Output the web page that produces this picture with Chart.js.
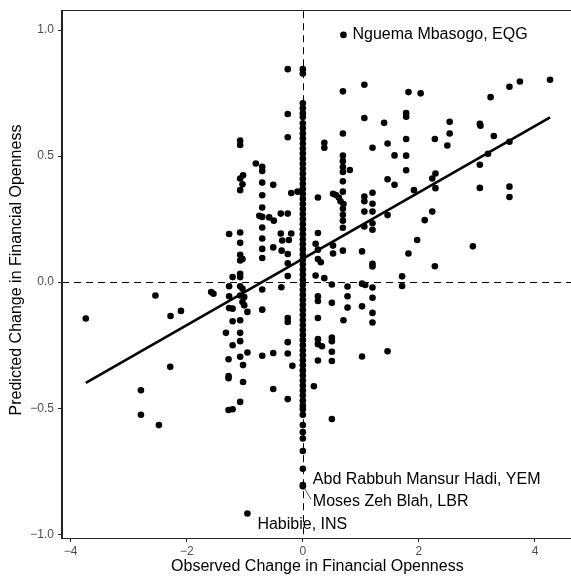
<!DOCTYPE html>
<html>
<head>
<meta charset="utf-8">
<script src="https://cdn.jsdelivr.net/npm/chart.js@4"></script>
<style>
  html, body { margin: 0; padding: 0; background: #fff; overflow: hidden; }
  #wrap { width: 576px; height: 580px; }
</style>
</head>
<body>
<div id="wrap"><canvas id="chart" width="576" height="580"></canvas></div>
<script>
const FONT = '"Liberation Sans", Arial, Helvetica, sans-serif';
const INK = '#000';
const AXIS = '#222';
const TICK_TXT = '#4d4d4d';

const xTicks = [-4, -2, 0, 2, 4];
const xTickLabels = ['\u22124', '\u22122', '0', '2', '4'];
const yTicks = [-1, -0.5, 0, 0.5, 1];
const yTickLabels = ['\u22121.0', '\u22120.5', '0.0', '0.5', '1.0'];

const xTitle = 'Observed Change in Financial Openness';
const yTitle = 'Predicted Change in Financial Openness';

// leaders with a nonzero observed change: [observed, predicted]
const movers = [
    [-3.74, -0.144], [-2.54, -0.053], [-2.28, -0.134], [-2.10, -0.114], [-2.285, -0.336],
    [-2.79, -0.429], [-2.79, -0.526], [-2.48, -0.567],
    [-1.58, -0.039], [-1.54, -0.046],
    [-1.27, 0.191], [-1.21, 0.020], [-1.27, -0.016], [-1.27, -0.056], [-1.27, -0.103], [-1.21, -0.105],
    [-1.21, -0.155], [-1.325, -0.201], [-1.21, -0.250], [-1.28, -0.306], [-1.28, -0.372], [-1.28, -0.381],
    [-1.28, -0.507], [-1.21, -0.504],
    [-1.08, 0.562], [-1.08, 0.544], [-1.03, 0.424], [-1.08, 0.411], [-1.04, 0.388], [-1.08, 0.365],
    [-1.08, 0.197], [-1.08, 0.156], [-1.08, 0.109], [-1.08, 0.086], [-1.04, 0.092], [-1.08, 0.033],
    [-1.08, 0.020], [-1.08, -0.016], [-1.04, -0.026], [-1.08, -0.053], [-1.01, -0.059], [-1.04, -0.079],
    [-1.01, -0.092], [-0.955, -0.118], [-1.08, -0.151], [-1.08, -0.201], [-1.08, -0.234], [-0.955, -0.279],
    [-1.08, -0.296], [-1.03, -0.329], [-1.03, -0.396], [-1.08, -0.475], [-0.955, -0.918],
    [-0.81, 0.471], [-0.70, 0.458], [-0.70, 0.441], [-0.70, 0.395], [-0.70, 0.345], [-0.70, 0.296],
    [-0.75, 0.263], [-0.70, 0.259], [-0.70, 0.217], [-0.70, 0.173], [-0.70, 0.132], [-0.70, 0.096],
    [-0.70, -0.029], [-0.70, -0.109], [-0.70, -0.292],
    [-0.51, 0.386], [-0.58, 0.257], [-0.50, 0.244], [-0.51, 0.138], [-0.51, -0.281], [-0.51, -0.424],
    [-0.26, 0.845], [-0.26, 0.667], [-0.26, 0.575], [-0.20, 0.354], [-0.09, 0.359], [-0.38, 0.272],
    [-0.26, 0.272], [-0.38, 0.193], [-0.355, 0.165], [-0.24, 0.167], [-0.20, 0.193], [-0.365, 0.125],
    [-0.26, 0.112], [-0.26, 0.075], [-0.26, 0.024], [-0.37, -0.020], [-0.26, -0.142], [-0.26, -0.158],
    [-0.26, -0.238], [-0.26, -0.283], [-0.18, -0.332], [-0.26, -0.464],
    [0.37, 0.553], [0.37, 0.533], [0.26, 0.336], [0.26, 0.195], [0.22, 0.152], [0.26, 0.129],
    [0.26, 0.092], [0.31, 0.079], [0.22, 0.026], [0.37, 0.016], [0.26, -0.056], [0.26, -0.075],
    [0.26, -0.142], [0.26, -0.226], [0.26, -0.246], [0.33, -0.254], [0.26, -0.311], [0.19, -0.413],
    [0.70, 0.981], [0.69, 0.757], [0.69, 0.590], [0.69, 0.502], [0.69, 0.480], [0.69, 0.457],
    [0.69, 0.437], [0.69, 0.400], [0.69, 0.359], [0.81, 0.445], [0.52, 0.351], [0.57, 0.346],
    [0.62, 0.336], [0.65, 0.321], [0.70, 0.310], [0.69, 0.291], [0.69, 0.267], [0.69, 0.244],
    [0.69, 0.216], [0.52, 0.145], [0.52, 0.114], [0.69, 0.125], [0.50, -0.009], [0.77, -0.017],
    [0.77, -0.056], [0.50, -0.082], [0.77, -0.101], [0.70, -0.151], [0.50, -0.220], [0.50, -0.234],
    [0.50, -0.276], [0.50, -0.313], [0.50, -0.543],
    [1.06, 0.783], [1.06, 0.651], [1.20, 0.533], [1.20, 0.355], [1.06, 0.340], [1.06, 0.321],
    [1.06, 0.280], [1.20, 0.311], [1.20, 0.280], [1.20, 0.234], [1.20, 0.208], [1.06, 0.221],
    [1.02, 0.122], [1.20, 0.073], [1.20, 0.062], [1.02, -0.006], [1.075, -0.011], [1.20, -0.021],
    [1.20, -0.062], [1.02, -0.096], [1.20, -0.122], [1.20, -0.160], [1.02, -0.295],
    [1.40, 0.632], [1.46, 0.550], [1.58, 0.503], [1.46, 0.408], [1.58, 0.386], [1.46, 0.266], [1.46, -0.274],
    [1.82, 0.754], [1.78, 0.671], [1.78, 0.656], [1.78, 0.568], [1.78, 0.502], [1.78, 0.444],
    [1.915, 0.365], [1.82, 0.114], [1.97, 0.167], [1.71, 0.023], [1.71, -0.015],
    [2.03, 0.749], [2.275, 0.568], [2.23, 0.411], [2.285, 0.431], [2.285, 0.373], [2.23, 0.280],
    [2.10, 0.246], [2.275, 0.063],
    [2.53, 0.636], [2.53, 0.590], [2.49, 0.542],
    [2.93, 0.142], [3.05, 0.628], [3.06, 0.621], [3.05, 0.466], [3.05, 0.374], [3.19, 0.509],
    [3.235, 0.734], [3.29, 0.580], [3.56, 0.775], [3.56, 0.557], [3.56, 0.379], [3.56, 0.338],
    [3.74, 0.796], [4.26, 0.803]
];

// leaders with no observed change: predicted values only
const stayersY = [
    0.845, 0.828,
    0.71, 0.69, 0.67, 0.655, 0.63, 0.61, 0.59, 0.57, 0.55, 0.53, 0.51, 0.49, 0.47, 0.45,
    0.43, 0.41, 0.39, 0.37, 0.35, 0.33, 0.31, 0.29, 0.27, 0.25, 0.23, 0.21, 0.19, 0.17,
    0.15, 0.13, 0.11, 0.09, 0.07, 0.05, 0.03, 0.01, -0.01, -0.03, -0.05, -0.07, -0.09,
    -0.11, -0.13, -0.15, -0.17, -0.19, -0.21, -0.23, -0.25, -0.27, -0.29, -0.31, -0.33,
    -0.35, -0.37, -0.39, -0.41, -0.43, -0.45, -0.47, -0.49,
    -0.504, -0.526, -0.567, -0.595, -0.62, -0.67, -0.74, -0.805, -0.81
];

// fitted line end points
const fitX = [-3.74, 4.26];
const fitY = [-0.40, 0.654];

// labelled leaders
const labelNames = ['Nguema Mbasogo, EQG', 'Abd Rabbuh Mansur Hadi, YEM', 'Moses Zeh Blah, LBR', 'Habibie, INS'];
const labelX = [0.70, 0, 0, -0.955];
const labelY = [0.981, -0.805, -0.805, -0.918];

const pts = movers.map(p => ({ x: p[0], y: p[1] }))
    .concat(stayersY.map(v => ({ x: 0, y: v })));

const refLines = {
    id: 'refLines',
    beforeDatasetsDraw(chart) {
        const { ctx, chartArea: a, scales: { x, y } } = chart;
        ctx.save();
        ctx.strokeStyle = INK;
        ctx.lineWidth = 1;
        ctx.setLineDash([7, 5]);
        const x0 = Math.round(x.getPixelForValue(0)) + 0.5;
        const y0 = Math.round(y.getPixelForValue(0)) + 0.5;
        ctx.beginPath();
        ctx.moveTo(x0, a.top); ctx.lineTo(x0, a.bottom);
        ctx.moveTo(a.left, y0); ctx.lineTo(a.right, y0);
        ctx.stroke();
        ctx.restore();
    },
    afterDraw(chart) {
        const { ctx, chartArea: a, scales: { x, y } } = chart;
        ctx.save();
        // panel border
        ctx.strokeStyle = AXIS;
        ctx.lineWidth = 1;
        ctx.strokeRect(Math.round(a.left) - 0.5, Math.round(a.top) - 0.5,
            Math.round(a.right - a.left) + 1, Math.round(a.bottom - a.top) + 1);

        // point labels
        const offs = [[9, 0], [10, -5], [10, 17], [10, 11]];
        ctx.font = '16px ' + FONT;
        ctx.fillStyle = INK;
        ctx.textAlign = 'left';
        ctx.textBaseline = 'middle';
        labelNames.forEach((name, i) => {
            const px = x.getPixelForValue(labelX[i]);
            const py = y.getPixelForValue(labelY[i]);
            ctx.fillText(name, px + offs[i][0], py + offs[i][1]);
        });
        // leader segment for the overlapping label
        const sx = x.getPixelForValue(labelX[2]);
        const sy = y.getPixelForValue(labelY[2]);
        ctx.lineWidth = 0.8;
        ctx.beginPath();
        ctx.moveTo(sx + 1, sy + 2);
        ctx.lineTo(sx + 8, sy + 14);
        ctx.stroke();

        // axis titles
        ctx.font = '16px ' + FONT;
        ctx.textAlign = 'center';
        ctx.fillText(xTitle, (a.left + a.right) / 2, 567);
        ctx.translate(17, 270);
        ctx.rotate(-Math.PI / 2);
        ctx.fillText(yTitle, 0, 0);
        ctx.restore();
    }
};

new Chart(document.getElementById('chart'), {
    type: 'scatter',
    data: {
        datasets: [
            {
                type: 'line',
                data: fitX.map((v, i) => ({ x: v, y: fitY[i] })),
                borderColor: INK,
                borderWidth: 2.6,
                pointRadius: 0,
                fill: false
            },
            {
                data: pts,
                backgroundColor: INK,
                borderWidth: 0,
                pointRadius: 3.3,
                pointHoverRadius: 3.3
            }
        ]
    },
    options: {
        responsive: false,
        animation: false,
        devicePixelRatio: 1,
        layout: { padding: { left: 0, right: 1, top: 9, bottom: 0 } },
        plugins: { legend: { display: false }, tooltip: { enabled: false } },
        scales: {
            x: {
                type: 'linear',
                min: -4.15,
                max: 4.65,
                afterBuildTicks: s => { s.ticks = xTicks.map(v => ({ value: v })); },
                afterFit: s => { s.height = 42; },
                grid: { drawOnChartArea: false, drawTicks: true, tickLength: 4, color: AXIS },
                border: { display: true, color: AXIS, width: 1 },
                ticks: {
                    color: TICK_TXT,
                    font: { family: FONT, size: 12 },
                    padding: 2,
                    maxRotation: 0,
                    callback: (v, i) => xTickLabels[i]
                }
            },
            y: {
                type: 'linear',
                min: -1.015,
                max: 1.075,
                afterBuildTicks: s => { s.ticks = yTicks.map(v => ({ value: v })); },
                afterFit: s => { s.width = 62; },
                grid: { drawOnChartArea: false, drawTicks: true, tickLength: 4, color: AXIS },
                border: { display: true, color: AXIS, width: 1 },
                ticks: {
                    color: TICK_TXT,
                    font: { family: FONT, size: 12 },
                    padding: 4,
                    callback: (v, i) => yTickLabels[i]
                }
            }
        }
    },
    plugins: [refLines]
});
</script>
</body>
</html>
